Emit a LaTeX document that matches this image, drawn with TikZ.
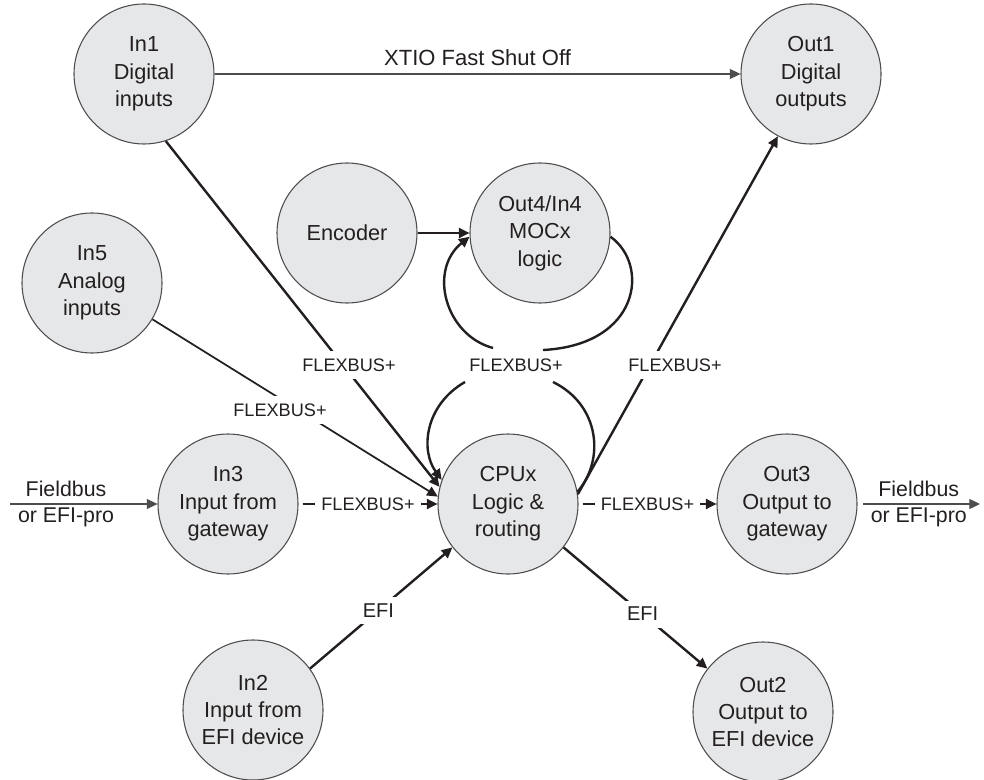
\documentclass[tikz,border=0pt]{standalone}
\usepackage{fontspec}
\setmainfont{Liberation Sans}
\usetikzlibrary{arrows.meta,calc}
\definecolor{cfill}{HTML}{E6E7E8}
\definecolor{cline}{HTML}{231F20}
\definecolor{cedge}{HTML}{4D4D4F}
\begin{document}
\begin{tikzpicture}[x=0.75pt,y=-0.75pt,
  unit/.style={circle, draw=cedge, line width=0.8pt, fill=cfill, inner sep=0pt,
    minimum size=105pt, align=center, text=cline,
    font=\fontsize{16.3}{20.6}\selectfont},
  flex/.style={fill=white, inner xsep=4.5pt, inner ysep=6pt, text=cline,
    font=\fontsize{13.6}{16}\selectfont},
  efi/.style={fill=white, inner sep=5pt, text=cline,
    font=\fontsize{15}{17}\selectfont},
  fb/.style={align=center, inner sep=0pt, text=cline,
    font=\fontsize{16}{19.8}\selectfont},
  xtio/.style={inner sep=0pt, text=cline, font=\fontsize{16.5}{19}\selectfont},
  arr/.style={-{Triangle[length=8pt,width=7.5pt]}},
  thickl/.style={draw=cline, line width=1.8pt},
  medl/.style={draw=cline, line width=1.3pt},
  thinl/.style={draw=cedge, line width=0.9pt}]
\useasboundingbox (0,0) rectangle (984,780);

% units
\node[unit] (in1)  at (144,74)  {In1\\Digital\\inputs};
\node[unit] (out1) at (811,74)  {Out1\\Digital\\outputs};
\node[unit] (enc)  at (347,233) {Encoder};
\node[unit] (out4) at (540,233) {Out4/In4\\MOCx\\logic};
\node[unit] (in5)  at (92,283)  {In5\\Analog\\inputs};
\node[unit] (in3)  at (228,504) {In3\\Input from\\gateway};
\node[unit] (cpu)  at (508,504) {CPUx\\Logic \&\\routing};
\node[unit] (out3) at (787,504) {Out3\\Output to\\gateway};
\node[unit] (in2)  at (253,710) {In2\\Input from\\EFI device};
\node[unit] (out2) at (763,712) {Out2\\Output to\\EFI device};

% free ends
\coordinate (fbL) at (10,504);
\coordinate (fbR) at (980,504);

% XTIO
\draw[thinl, arr] (in1.east) -- node[xtio, above=6pt] {XTIO Fast Shut Off} (out1.west);

% FLEXBUS+ lines into CPU
\draw[thickl, arr] (in1.-72) -- (cpu.166);
\node[flex] (l1) at (349,365) {FLEXBUS+};
\draw[medl, arr] (in5.-31) -- (cpu.174);
\node[flex] (l5) at (280,410) {FLEXBUS+};
\draw[thickl, arr, shorten <=3pt] (in3.east) -- node[flex] {FLEXBUS+} (cpu.west);

% Encoder
\draw[thickl, arr] (enc.east) -- (out4.west);

% loop CPU <-> Out4
\node[flex] (lp) at (516,365) {FLEXBUS+};
\coordinate (lpA) at (493,348);
\coordinate (lpB) at (465,382);
\coordinate (lpC) at (543,350);
\coordinate (lpD) at (553,382);
\draw[thickl, arr] (lpA) .. controls (445,335) and (428,270) .. (out4.183);
\draw[thickl, arr] (lpB) .. controls (425,405) and (420,450) .. (cpu.160);
\draw[thickl] (out4.-3) .. controls (650,265) and (640,345) .. (lpC);
\draw[thickl] (lpD) .. controls (600,405) and (605,460) .. (cpu.10);

% CPU -> Out1
\draw[thickl, arr] (cpu.8) -- (out1.242);
\node[flex] (lo1) at (675,365) {FLEXBUS+};

% CPU -> Out3 and fieldbus
\draw[thickl, arr, shorten <=3pt] (cpu.east) -- node[flex] {FLEXBUS+} (out3.west);
\draw[thinl, arr, shorten <=4pt] (out3.east) -- node[fb] {Fieldbus\\or EFI-pro} (fbR);
\draw[thinl, arr] (fbL) -- node[fb, pos=0.38] {Fieldbus\\or EFI-pro} (in3.west);

% EFI
\draw[thickl, arr] (in2.36) -- node[efi, pos=0.48] {EFI} (cpu.218);
\draw[thickl, arr] (cpu.-38) -- node[efi, pos=0.55] {EFI} (out2.142);
\end{tikzpicture}
\end{document}
